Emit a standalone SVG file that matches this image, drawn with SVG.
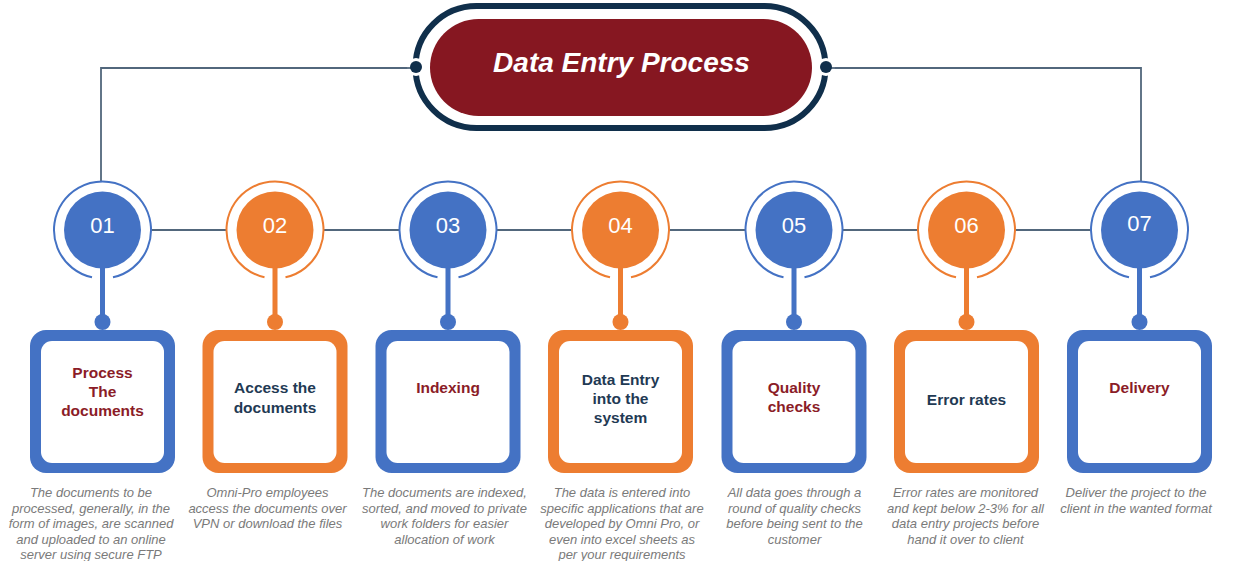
<svg xmlns="http://www.w3.org/2000/svg" width="1243" height="561" viewBox="0 0 1243 561">
<style>
.bg{fill:#ffffff}
.conn{fill:none;stroke:#52677c;stroke-width:1.8}
.num{font-family:"Liberation Sans",Arial,sans-serif;font-size:22px;fill:#ffffff;text-anchor:middle}
.lbl{font-family:"Liberation Sans",Arial,sans-serif;font-size:15.5px;font-weight:bold;text-anchor:middle}
.red{fill:#8b1c27}
.navy{fill:#1f3a54}
.desc{font-family:"Liberation Sans",Arial,sans-serif;font-size:13px;font-style:italic;fill:#7a7a7a;text-anchor:middle}
.blue .c{fill:#4472c4}
.blue .r{fill:none;stroke:#4472c4;stroke-width:2}
.orange .c{fill:#ed7d31}
.orange .r{fill:none;stroke:#ed7d31;stroke-width:2}
.inner{fill:#ffffff}
.title{font-family:"Liberation Sans",Arial,sans-serif;font-size:28px;font-weight:bold;font-style:italic;fill:#ffffff;text-anchor:middle}
</style>
<rect class="bg" x="0" y="0" width="1243" height="561"/>

<g id="connectors">
  <path class="conn" d="M101 182 V68 H416"/>
  <path class="conn" d="M1141 182 V68 H826"/>
  <line class="conn" x1="151" y1="230" x2="226.5" y2="230"/>
  <line class="conn" x1="323.5" y1="230" x2="399.5" y2="230"/>
  <line class="conn" x1="496.5" y1="230" x2="572" y2="230"/>
  <line class="conn" x1="669" y1="230" x2="745.5" y2="230"/>
  <line class="conn" x1="842.5" y1="230" x2="918" y2="230"/>
  <line class="conn" x1="1015" y1="230" x2="1091" y2="230"/>
</g>

<g id="title">
  <rect x="415.5" y="6" width="410" height="122" rx="61" fill="none" stroke="#102f4b" stroke-width="6"/>
  <circle cx="416" cy="67" r="9" fill="#ffffff"/>
  <circle cx="826" cy="67" r="9" fill="#ffffff"/>
  <line class="conn" x1="400" y1="68" x2="416" y2="68"/>
  <line class="conn" x1="826" y1="68" x2="842" y2="68"/>
  <circle cx="416" cy="67" r="6" fill="#102f4b"/>
  <circle cx="826" cy="67" r="6" fill="#102f4b"/>
  <rect x="430" y="19" width="382" height="97" rx="48.5" fill="#861721"/>
  <text class="title" x="621.5" y="72">Data Entry Process</text>
</g>

<g id="step01" class="blue">
  <path class="r" d="M92 277.35 A48.5 48.5 0 1 1 113 277.35"/>
  <circle class="c" cx="102.5" cy="230" r="38.5"/>
  <rect class="c" x="100" y="265" width="5" height="57"/>
  <circle class="c" cx="102.5" cy="322" r="8"/>
  <rect class="c" x="30" y="330" width="145" height="143" rx="16"/>
  <rect class="inner" x="41" y="341" width="123" height="122" rx="11"/>
  <text class="num" x="102.5" y="233">01</text>
  <text class="lbl red" x="102.5" y="378">Process<tspan x="102.5" y="397">The</tspan><tspan x="102.5" y="416">documents</tspan></text>
  <text class="desc" x="91" y="497">The documents to be<tspan x="91" y="512.5">processed, generally, in the</tspan><tspan x="91" y="528">form of images, are scanned</tspan><tspan x="91" y="543.5">and uploaded to an online</tspan><tspan x="91" y="559">server using secure FTP</tspan></text>
</g>

<g id="step02" class="orange">
  <path class="r" d="M264.5 277.35 A48.5 48.5 0 1 1 285.5 277.35"/>
  <circle class="c" cx="275" cy="230" r="38.5"/>
  <rect class="c" x="272.5" y="265" width="5" height="57"/>
  <circle class="c" cx="275" cy="322" r="8"/>
  <rect class="c" x="202.5" y="330" width="145" height="143" rx="16"/>
  <rect class="inner" x="213.5" y="341" width="123" height="122" rx="11"/>
  <text class="num" x="275" y="233">02</text>
  <text class="lbl navy" x="275" y="393">Access the<tspan x="275" y="413">documents</tspan></text>
  <text class="desc" x="267.5" y="497">Omni-Pro employees<tspan x="267.5" y="512.5">access the documents over</tspan><tspan x="267.5" y="528">VPN or download the files</tspan></text>
</g>

<g id="step03" class="blue">
  <path class="r" d="M437.5 277.35 A48.5 48.5 0 1 1 458.5 277.35"/>
  <circle class="c" cx="448" cy="230" r="38.5"/>
  <rect class="c" x="445.5" y="265" width="5" height="57"/>
  <circle class="c" cx="448" cy="322" r="8"/>
  <rect class="c" x="375.5" y="330" width="145" height="143" rx="16"/>
  <rect class="inner" x="386.5" y="341" width="123" height="122" rx="11"/>
  <text class="num" x="448" y="233">03</text>
  <text class="lbl red" x="448" y="393">Indexing</text>
  <text class="desc" x="444.5" y="497">The documents are indexed,<tspan x="444.5" y="512.5">sorted, and moved to private</tspan><tspan x="444.5" y="528">work folders for easier</tspan><tspan x="444.5" y="543.5">allocation of work</tspan></text>
</g>

<g id="step04" class="orange">
  <path class="r" d="M610 277.35 A48.5 48.5 0 1 1 631 277.35"/>
  <circle class="c" cx="620.5" cy="230" r="38.5"/>
  <rect class="c" x="618" y="265" width="5" height="57"/>
  <circle class="c" cx="620.5" cy="322" r="8"/>
  <rect class="c" x="548" y="330" width="145" height="143" rx="16"/>
  <rect class="inner" x="559" y="341" width="123" height="122" rx="11"/>
  <text class="num" x="620.5" y="233">04</text>
  <text class="lbl navy" x="620.5" y="385">Data Entry<tspan x="620.5" y="404">into the</tspan><tspan x="620.5" y="423">system</tspan></text>
  <text class="desc" x="622" y="497">The data is entered into<tspan x="622" y="512.5">specific applications that are</tspan><tspan x="622" y="528">developed by Omni Pro, or</tspan><tspan x="622" y="543.5">even into excel sheets as</tspan><tspan x="622" y="559">per your requirements</tspan></text>
</g>

<g id="step05" class="blue">
  <path class="r" d="M783.5 277.35 A48.5 48.5 0 1 1 804.5 277.35"/>
  <circle class="c" cx="794" cy="230" r="38.5"/>
  <rect class="c" x="791.5" y="265" width="5" height="57"/>
  <circle class="c" cx="794" cy="322" r="8"/>
  <rect class="c" x="721.5" y="330" width="145" height="143" rx="16"/>
  <rect class="inner" x="732.5" y="341" width="123" height="122" rx="11"/>
  <text class="num" x="794" y="233">05</text>
  <text class="lbl red" x="794" y="393">Quality<tspan x="794" y="412">checks</tspan></text>
  <text class="desc" x="794.5" y="497">All data goes through a<tspan x="794.5" y="512.5">round of quality checks</tspan><tspan x="794.5" y="528">before being sent to the</tspan><tspan x="794.5" y="543.5">customer</tspan></text>
</g>

<g id="step06" class="orange">
  <path class="r" d="M956 277.35 A48.5 48.5 0 1 1 977 277.35"/>
  <circle class="c" cx="966.5" cy="230" r="38.5"/>
  <rect class="c" x="964" y="265" width="5" height="57"/>
  <circle class="c" cx="966.5" cy="322" r="8"/>
  <rect class="c" x="894" y="330" width="145" height="143" rx="16"/>
  <rect class="inner" x="905" y="341" width="123" height="122" rx="11"/>
  <text class="num" x="966.5" y="233">06</text>
  <text class="lbl navy" x="966.5" y="405">Error rates</text>
  <text class="desc" x="965.5" y="497">Error rates are monitored<tspan x="965.5" y="512.5">and kept below 2-3% for all</tspan><tspan x="965.5" y="528">data entry projects before</tspan><tspan x="965.5" y="543.5">hand it over to client</tspan></text>
</g>

<g id="step07" class="blue">
  <path class="r" d="M1129 277.35 A48.5 48.5 0 1 1 1150 277.35"/>
  <circle class="c" cx="1139.5" cy="230" r="38.5"/>
  <rect class="c" x="1137" y="265" width="5" height="57"/>
  <circle class="c" cx="1139.5" cy="322" r="8"/>
  <rect class="c" x="1067" y="330" width="145" height="143" rx="16"/>
  <rect class="inner" x="1078" y="341" width="123" height="122" rx="11"/>
  <text class="num" x="1139.5" y="231">07</text>
  <text class="lbl red" x="1139.5" y="393">Delivery</text>
  <text class="desc" x="1136" y="497">Deliver the project to the<tspan x="1136" y="512.5">client in the wanted format</tspan></text>
</g>
</svg>
